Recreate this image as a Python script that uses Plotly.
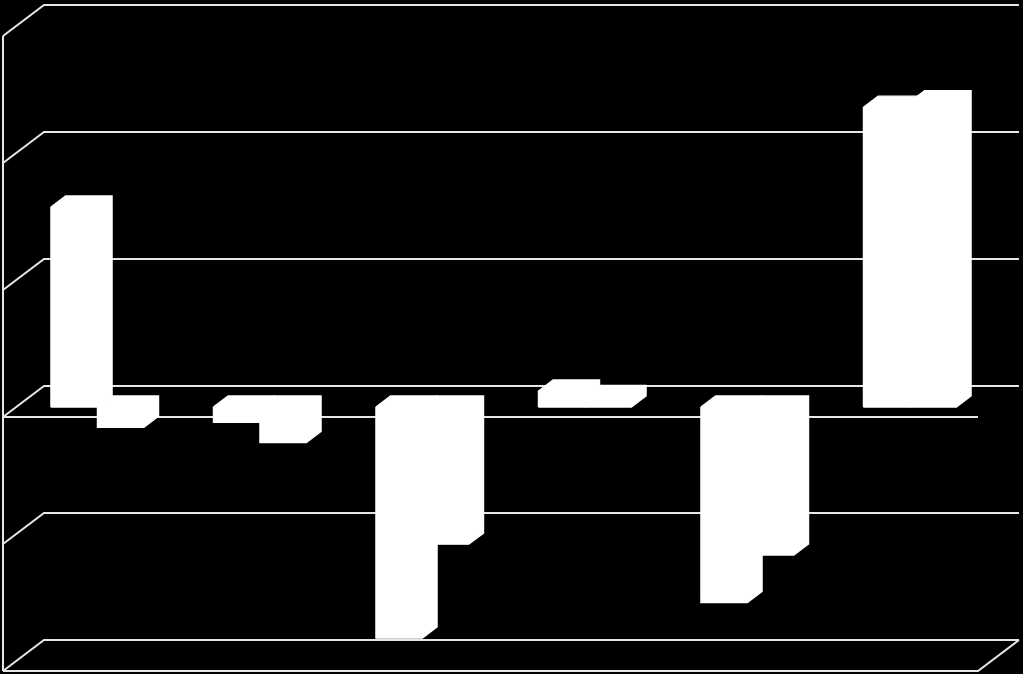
import plotly.graph_objects as go


categories = [0, 1, 2, 3, 4, 5]
series_a = [15.75, -1.2, -18.2, 1.26, -15.4, 23.6]
series_b = [-1.6, -2.8, -10.8, 0.83, -11.65, 24.05]
value_ticks = [-20, -10, 0, 10, 20, 30]

##  pixels per unit, the chart is a fake 3D box so everything is offset by depth.
unit_x = 162.5
unit_y = 12.7
wall_x = 41 / unit_x
wall_y = 31 / unit_y
bar_front = 0.32
bar_back = 0.68
bar_width = 46.5 / unit_x
line_color = '#e6e6e6'


def shifted(x, y, depth):
    return x + wall_x * depth, y + wall_y * depth


def add_line(figure, points):
    figure.add_trace(go.Scatter(
        x=[p[0] for p in points], y=[p[1] for p in points], mode='lines',
        line=dict(color=line_color, width=2), hoverinfo='skip', showlegend=False
    ))


def add_bar(figure, left, value):
    right = left + bar_width
    a = shifted(left, 0, bar_front)
    b = shifted(right, 0, bar_front)
    c = shifted(left, value, bar_front)
    d = shifted(right, value, bar_front)
    e = shifted(left, value, bar_back)
    f = shifted(right, value, bar_back)
    g = shifted(left, 0, bar_back)
    h = shifted(right, 0, bar_back)
    if value > 0:
        outline = [a, c, e, f, h, b, a]
    else:
        outline = [a, g, h, f, d, c, a]
    figure.add_trace(go.Scatter(
        x=[p[0] for p in outline], y=[p[1] for p in outline], mode='lines', fill='toself',
        fillcolor='white', line=dict(color='white', width=1.2), hoverinfo='skip', showlegend=False
    ))


figure = go.Figure()
low, high = min(value_ticks), max(value_ticks)
start, stop = categories[0] - 0.5, categories[-1] + 0.5

##  walls
for tick in value_ticks:
    add_line(figure, [(start, tick), shifted(start, tick, 1), shifted(stop, tick, 1)])
add_line(figure, [(start, low), (start, high)])
add_line(figure, [(start, 0), (stop, 0)])
add_line(figure, [(start, low), (stop, low), shifted(stop, low, 1)])

##  bars
for category, a_value, b_value in zip(categories, series_a, series_b):
    add_bar(figure, category - bar_width, a_value)
    add_bar(figure, category, b_value)

figure.update_layout(
    width=1023, height=674, margin=dict(l=0, r=0, t=0, b=0),
    paper_bgcolor='black', plot_bgcolor='black', showlegend=False,
    xaxis=dict(visible=False, range=[start - 3 / unit_x, start + 1020 / unit_x]),
    yaxis=dict(visible=False, range=[-257 / unit_y, 417 / unit_y])
)
figure.write_html(
    "out.html",
    config=dict(displayModeBar=False),
    post_script="document.body.style.margin='0';document.body.style.background='black';document.documentElement.style.overflow='hidden';"
)
